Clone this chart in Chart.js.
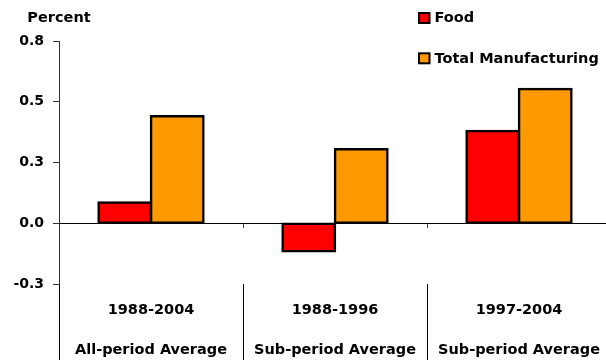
<!DOCTYPE html>
<html>
<head>
<meta charset="utf-8">
<script src="https://cdn.jsdelivr.net/npm/chart.js@4/dist/chart.umd.min.js"></script>
<style>
  html, body { margin: 0; padding: 0; background: #fff; overflow: hidden; }
  #wrap { width: 606px; height: 360px; overflow: hidden; position: relative; }
  canvas { display: block; }
</style>
</head>
<body>
<div id="wrap"><canvas id="chart" width="612" height="360"></canvas></div>
<script>
// Average growth, percent, by period
const periods = ['1988-2004', '1988-1996', '1997-2004'];
const averageTypes = ['All-period Average', 'Sub-period Average', 'Sub-period Average'];
const foodValues = [0.085, -0.115, 0.38];
const manufacturingValues = [0.44, 0.305, 0.552];
const yTickValues = [-0.25, 0, 0.25, 0.5, 0.75];
const yTickLabels = ['-0.3', '0.0', '0.3', '0.5', '0.8'];
const axisTitle = 'Percent';

const FONT = 'DejaVu Sans';
Chart.defaults.font.family = FONT;
Chart.defaults.font.weight = 'bold';
Chart.defaults.color = '#000';

// Two-line category labels: period on top, average type below
const categoryLabels = periods.map((p, i) => [p, averageTypes[i]]);

// Axis title and series key drawn on top of the plot
const seriesKey = {
  id: 'seriesKey',
  afterDraw(chart) {
    const { ctx } = chart;
    ctx.save();
    ctx.font = 'bold 14.5px "' + FONT + '"';
    ctx.textBaseline = 'middle';
    ctx.fillStyle = '#000';
    ctx.textAlign = 'center';
    ctx.fillText(axisTitle, chart.chartArea.left, 18);
    ctx.textAlign = 'left';
    chart.data.datasets.forEach((ds, i) => {
      const cy = 18 + i * 40.3;
      ctx.fillStyle = '#000';
      ctx.fillRect(418, cy - 6, 12.5, 12);
      ctx.fillStyle = ds.backgroundColor;
      ctx.fillRect(420, cy - 4, 8.5, 8);
      ctx.fillStyle = '#000';
      ctx.fillText(ds.label, 434.5, cy + 0.5);
    });
    ctx.restore();
  }
};

const barStyle = {
  borderColor: '#000',
  borderWidth: 2.5,
  borderSkipped: false,
  inflateAmount: 1.25,
  categoryPercentage: 0.57,
  barPercentage: 1
};

new Chart(document.getElementById('chart'), {
  type: 'bar',
  data: {
    labels: categoryLabels,
    datasets: [
      Object.assign({ label: 'Food', data: foodValues, backgroundColor: '#FF0000', xAxisID: 'x' }, barStyle),
      Object.assign({ label: 'Total Manufacturing', data: manufacturingValues, backgroundColor: '#FF9900', xAxisID: 'x' }, barStyle)
    ]
  },
  options: {
    responsive: false,
    animation: false,
    devicePixelRatio: 1,
    layout: { padding: { top: 41, right: 1, bottom: 0, left: 0 } },
    plugins: {
      legend: { display: false },
      tooltip: { enabled: false },
      title: { display: false }
    },
    scales: {
      // category axis sitting on the zero line: short tick marks only
      x: {
        type: 'category',
        position: { y: 0 },
        offset: true,
        border: { display: false },
        grid: {
          offset: true,
          drawOnChartArea: false,
          drawTicks: true,
          tickLength: 5,
          tickColor: '#444',
          lineWidth: 1
        },
        ticks: { display: false }
      },
      // lower axis carrying the two-line labels and the long separators
      x2: {
        type: 'category',
        position: 'bottom',
        offset: true,
        border: { display: false },
        grid: {
          offset: true,
          drawOnChartArea: false,
          drawTicks: true,
          tickLength: 76,
          tickColor: '#000',
          lineWidth: 1
        },
        ticks: {
          autoSkip: false,
          maxRotation: 0,
          minRotation: 0,
          padding: -70,
          color: '#000',
          font: { family: FONT, size: 14.5, weight: 'bold', lineHeight: '40px' }
        },
        afterFit(scale) { scale.height = 76; }
      },
      y: {
        min: -0.25,
        max: 0.75,
        border: { display: true, color: '#333', width: 1 },
        grid: {
          drawTicks: true,
          tickLength: 6,
          tickColor: '#333',
          lineWidth: 1,
          color: (c) => (c.tick && c.tick.value === 0 ? '#000' : 'rgba(0,0,0,0)')
        },
        afterBuildTicks(scale) {
          scale.ticks = yTickValues.map((v) => ({ value: v }));
        },
        ticks: {
          padding: 9,
          color: '#000',
          font: { family: FONT, size: 14, weight: 'bold' },
          callback: (v) => {
            const i = yTickValues.indexOf(v);
            return i >= 0 ? yTickLabels[i] : '';
          }
        },
        afterFit(scale) { scale.width = 59; }
      }
    }
  },
  plugins: [seriesKey]
});
</script>
</body>
</html>
